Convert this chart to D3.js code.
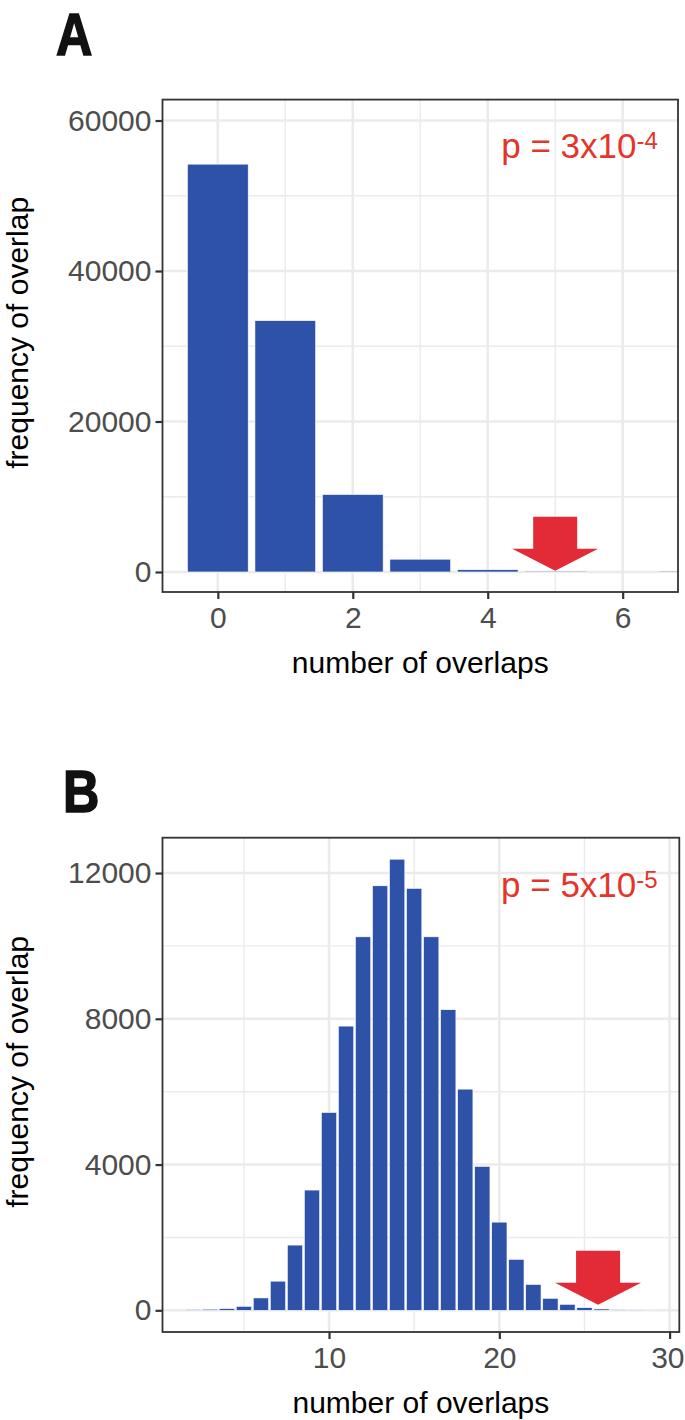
<!DOCTYPE html>
<html>
<head>
<meta charset="utf-8">
<script src="https://cdn.jsdelivr.net/npm/d3@7"></script>
<style>
  body { margin: 0; background: #fff; }
  text { font-family: "Liberation Sans", Arial, Helvetica, sans-serif; }
</style>
</head>
<body>
<div id="chart"></div>
<script>
// panel A: number of overlaps 0..7
const overlapsA = [0, 1, 2, 3, 4, 5, 6, 7];
const freqA = [54200, 33400, 10300, 1700, 300, 120, 0, 120];
const xTicksA = [0, 2, 4, 6];
const yTicksA = [0, 20000, 40000, 60000];

// panel B: number of overlaps 2..29
const overlapsB = [2, 3, 4, 5, 6, 7, 8, 9, 10, 11, 12, 13, 14, 15, 16, 17, 18, 19, 20, 21, 22, 23, 24, 25, 26, 27, 28, 29];
const freqB = [20, 30, 46, 110, 340, 800, 1790, 3300, 5430, 7800, 10250, 11650, 12380, 11580, 10250, 8250, 6070, 3950, 2420, 1400, 710, 330, 165, 73, 37, 18, 10, 5];
const xTicksB = [10, 20, 30];
const yTicksB = [0, 4000, 8000, 12000];

const panelLetters = ["A", "B"];
const pBase = ["p = 3x10", "p = 5x10"];
const pExp = ["-4", "-5"];
const xTitle = "number of overlaps";
const yTitle = "frequency of overlap";

const W = 685, H = 1420;
const svg = d3.select("#chart").append("svg")
    .attr("width", W)
    .attr("height", H);
svg.append("rect").attr("width", W).attr("height", H).attr("fill", "#fff");

const barFill = "#2E52A7";
const red = "#E5352B";
const arrowRed = "#E22B36";
const gridCol = "#EBEBEB";

function drawPanel(o) {
    const x = d3.scaleLinear().domain(o.xDomain).range([o.left, o.right]);
    const y = d3.scaleLinear().domain(o.yDomain).range([o.bottom, o.top]);
    const g = svg.append("g");

    // minor grid (between major ticks)
    const xMinor = o.xTicks.slice(0, -1).map((d, i) => (d + o.xTicks[i + 1]) / 2);
    const step = o.xTicks[1] - o.xTicks[0];
    xMinor.unshift(o.xTicks[0] - step / 2);
    xMinor.push(o.xTicks[o.xTicks.length - 1] + step / 2);
    const yMinor = o.yTicks.slice(0, -1).map((d, i) => (d + o.yTicks[i + 1]) / 2);

    g.selectAll(".minx").data(xMinor.filter(d => x(d) > o.left && x(d) < o.right)).enter()
      .append("line")
        .attr("x1", d => x(d)).attr("x2", d => x(d))
        .attr("y1", o.top).attr("y2", o.bottom)
        .attr("stroke", gridCol).attr("stroke-width", 1.4);
    g.selectAll(".miny").data(yMinor).enter()
      .append("line")
        .attr("x1", o.left).attr("x2", o.right)
        .attr("y1", d => y(d)).attr("y2", d => y(d))
        .attr("stroke", gridCol).attr("stroke-width", 1.4);
    g.selectAll(".majx").data(o.xTicks).enter()
      .append("line")
        .attr("x1", d => x(d)).attr("x2", d => x(d))
        .attr("y1", o.top).attr("y2", o.bottom)
        .attr("stroke", gridCol).attr("stroke-width", 2.6);
    g.selectAll(".majy").data(o.yTicks).enter()
      .append("line")
        .attr("x1", o.left).attr("x2", o.right)
        .attr("y1", d => y(d)).attr("y2", d => y(d))
        .attr("stroke", gridCol).attr("stroke-width", 2.6);

    // bars, width 0.9, clipped to panel
    const clipId = "clip" + o.letter;
    svg.append("clipPath").attr("id", clipId)
      .append("rect")
        .attr("x", o.left).attr("y", o.top)
        .attr("width", o.right - o.left).attr("height", o.bottom - o.top);
    g.append("g").attr("clip-path", `url(#${clipId})`)
      .selectAll("rect")
      .data(o.cats.map((c, i) => ({ c: c, v: o.vals[i] })).filter(d => d.v > 0))
      .enter()
      .append("rect")
        .attr("x", d => x(d.c - 0.45))
        .attr("width", d => x(d.c + 0.45) - x(d.c - 0.45))
        .attr("y", d => y(d.v))
        .attr("height", d => y(0) - y(d.v))
        .attr("fill", barFill)
        .attr("stroke", "#fff")
        .attr("stroke-width", 0.6);

    // red arrow pointing down at the observed value
    const ax = x(o.arrow[0]), ay = y(o.arrow[1]);
    const pts = [[-22, -54], [22, -54], [22, -22], [43, -22], [0, 0], [-43, -22], [-22, -22]];
    g.append("path")
        .attr("d", d3.line()(pts.map(p => [ax + p[0], ay + p[1]])) + "Z")
        .attr("fill", arrowRed);

    // p value
    const t = g.append("text")
        .attr("x", x(o.pPos[0])).attr("y", y(o.pPos[1]))
        .attr("text-anchor", "middle")
        .attr("fill", red)
        .attr("font-size", 35);
    t.append("tspan").text(o.pBase);
    t.append("tspan").attr("dy", -9).attr("font-size", 24).text(o.pExp);

    // panel border
    g.append("rect")
        .attr("x", o.left).attr("y", o.top)
        .attr("width", o.right - o.left).attr("height", o.bottom - o.top)
        .attr("fill", "none").attr("stroke", "#333").attr("stroke-width", 1.8);

    // axes
    const ax1 = g.append("g").attr("transform", `translate(${o.left},0)`)
        .call(d3.axisLeft(y).tickValues(o.yTicks).tickSize(7).tickPadding(4).tickFormat(d3.format("d")));
    const ax2 = g.append("g").attr("transform", `translate(0,${o.bottom})`)
        .call(d3.axisBottom(x).tickValues(o.xTicks).tickSize(7).tickPadding(8).tickFormat(d3.format("d")));
    [ax1, ax2].forEach(a => {
        a.select(".domain").remove();
        a.selectAll("line").attr("stroke", "#333").attr("stroke-width", 2.2);
        a.selectAll("text").attr("fill", "#4D4D4D").attr("font-size", 30)
            .style("font-family", '"Liberation Sans", Arial, sans-serif');
    });
    // keep the last x label inside the page
    ax2.selectAll(".tick").each(function(d) {
        const txt = d3.select(this).select("text");
        const half = txt.node().getComputedTextLength() / 2;
        const over = x(d) + half - (W - 1);
        if (over > 0) txt.attr("dx", -over);
    });

    // titles
    g.append("text")
        .attr("x", (o.left + o.right) / 2).attr("y", o.bottom + 81)
        .attr("text-anchor", "middle").attr("font-size", 30).attr("fill", "#000")
        .text(xTitle);
    g.append("text")
        .attr("transform", `translate(28,${(o.top + o.bottom) / 2 - 13}) rotate(-90)`)
        .attr("text-anchor", "middle").attr("font-size", 30).attr("fill", "#000")
        .text(yTitle);

    // panel letter
    g.append("text")
        .attr("transform", `translate(${o.letterX},${o.letterY}) scale(0.84,1)`)
        .attr("font-size", 60).attr("font-weight", "bold")
        .attr("fill", "#111").attr("stroke", "#111").attr("stroke-width", 1.6)
        .text(o.letter);
}

drawPanel({
    letter: panelLetters[0], letterX: 56, letterY: 55,
    left: 162.5, right: 678, top: 99.6, bottom: 592,
    xDomain: [-0.82, 6.82], yDomain: [-2660, 62780],
    cats: overlapsA, vals: freqA, xTicks: xTicksA, yTicks: yTicksA,
    arrow: [5, 150], pPos: [5.36, 55000], pBase: pBase[0], pExp: pExp[0]
});

drawPanel({
    letter: panelLetters[1], letterX: 63, letterY: 812,
    left: 162.5, right: 679.3, top: 837.7, bottom: 1332,
    xDomain: [0.22, 30.57], yDomain: [-595, 12970],
    cats: overlapsB, vals: freqB, xTicks: xTicksB, yTicks: yTicksB,
    arrow: [25.8, 150], pPos: [24.7, 11340], pBase: pBase[1], pExp: pExp[1]
});
</script>
</body>
</html>
